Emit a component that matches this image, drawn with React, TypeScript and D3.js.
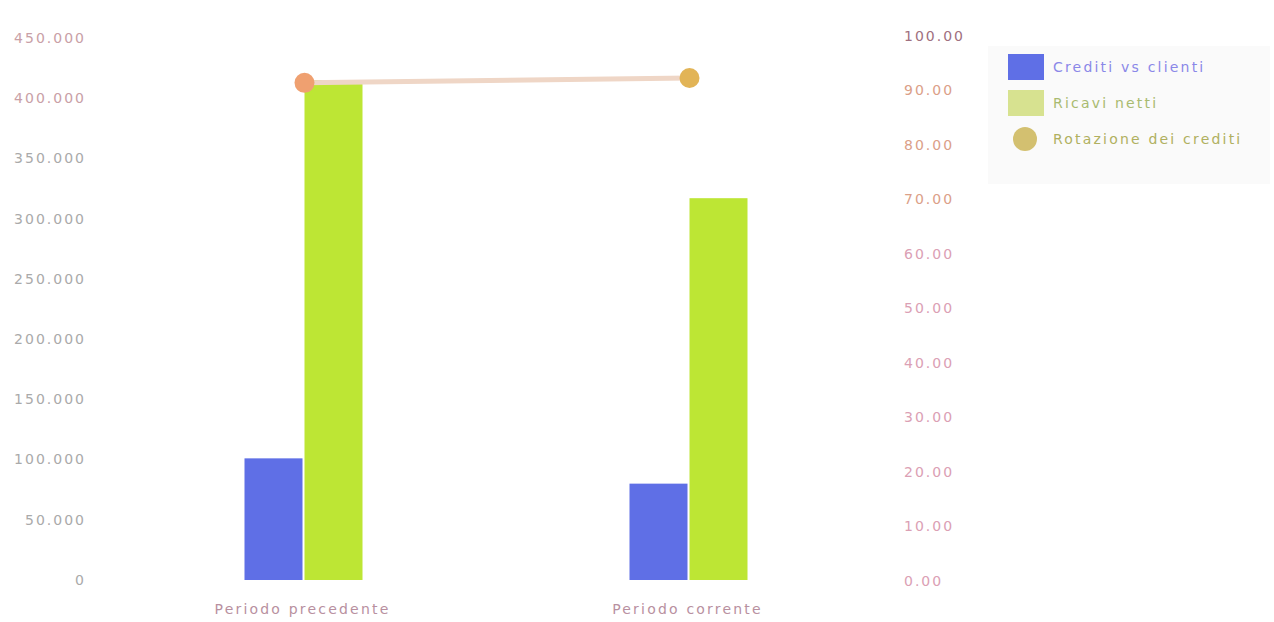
import React from "react";
import * as d3 from "d3";

const categories = ["Periodo precedente", "Periodo corrente"];
const crediti = [101000, 80000];
const ricavi = [415000, 317000];
const rotazione = [91.4, 92.3];
const leftTicks = [0, 50000, 100000, 150000, 200000, 250000, 300000, 350000, 400000, 450000];
const rightTicks = [0, 10, 20, 30, 40, 50, 60, 70, 80, 90, 100];
const seriesNames = ["Crediti vs clienti", "Ricavi netti", "Rotazione dei crediti"];

const W = 1274, H = 622;
const plot = { left: 110, right: 880, top: 38, bottom: 580 };
const BLUE = "#5f6fe6";
const GREEN = "#bde634";
const LINE = "#efd6c6";
const DOT = "#e2b456";

const fmtL = (v: number) => (v === 0 ? "0" : d3.format(",")(v).replace(/,/g, "."));
const fmtR = (v: number) => v.toFixed(2);

export default function App() {
  const x = d3.scaleBand<string>().domain(categories).range([plot.left, plot.right]).padding(0);
  const yL = d3.scaleLinear().domain([0, 450000]).range([plot.bottom, plot.top]);
  const yR = d3.scaleLinear().domain([0, 100]).range([plot.bottom + 1, plot.top - 2]);
  const barW = 58;
  const gap = 2;
  const cx = (c: string) => (x(c) as number) + x.bandwidth() / 2;
  const line = d3.line<number>().x((_, i) => cx(categories[i]) + 2).y((d) => yR(d));
  const font = "'DejaVu Sans', sans-serif";
  return (
    <svg width={W} height={H} style={{ position: "absolute", left: 0, top: 0, background: "#fff" }} fontFamily={font}>
      {leftTicks.map((t) => (
        <text key={"l" + t} x={86} y={yL(t)} dy="0.35em" textAnchor="end" fontSize={14} letterSpacing={2}
          fill={t >= 400000 ? "#c9a0a6" : "#aaaaaa"}>{fmtL(t)}</text>
      ))}
      {rightTicks.map((t) => (
        <text key={"r" + t} x={904} y={yR(t)} dy="0.35em" textAnchor="start" fontSize={14} letterSpacing={2}
          fill={t >= 100 ? "#a07080" : t >= 70 ? "#dba088" : "#dba0b4"}>{fmtR(t)}</text>
      ))}
      {categories.map((c, i) => (
        <g key={c}>
          <rect x={cx(c) - barW - gap / 2 + 1} y={yL(crediti[i])} width={barW} height={plot.bottom - yL(crediti[i])} fill={BLUE} />
          <rect x={cx(c) + gap / 2 + 1} y={yL(ricavi[i])} width={barW} height={plot.bottom - yL(ricavi[i])} fill={GREEN} />
          <text x={cx(c)} y={609} dy="0.35em" textAnchor="middle" fontSize={14} letterSpacing={2.2} fill="#b890a0">{c}</text>
        </g>
      ))}
      <path d={line(rotazione) || ""} fill="none" stroke={LINE} strokeWidth={5} />
      {rotazione.map((v, i) => (
        <circle key={i} cx={cx(categories[i]) + 2} cy={yR(v)} r={10} fill={i === 0 ? "#efa070" : DOT} />
      ))}
      <rect x={988} y={46} width={282} height={138} fill="#fafafa" />
      {seriesNames.map((s, i) => {
        const ly = 67 + i * 36;
        return (
          <g key={s}>
            {i === 0 && <rect x={1008} y={ly - 13} width={36} height={26} fill={BLUE} />}
            {i === 1 && <rect x={1008} y={ly - 13} width={36} height={26} fill="#d7e290" />}
            {i === 2 && <circle cx={1025} cy={ly} r={12} fill="#d3c070" />}
            <text x={1053} y={ly} dy="0.35em" fontSize={14} letterSpacing={2.2}
              fill={i === 0 ? "#8a88e8" : i === 1 ? "#a9bb70" : "#b0b060"}>{s}</text>
          </g>
        );
      })}
    </svg>
  );
}
